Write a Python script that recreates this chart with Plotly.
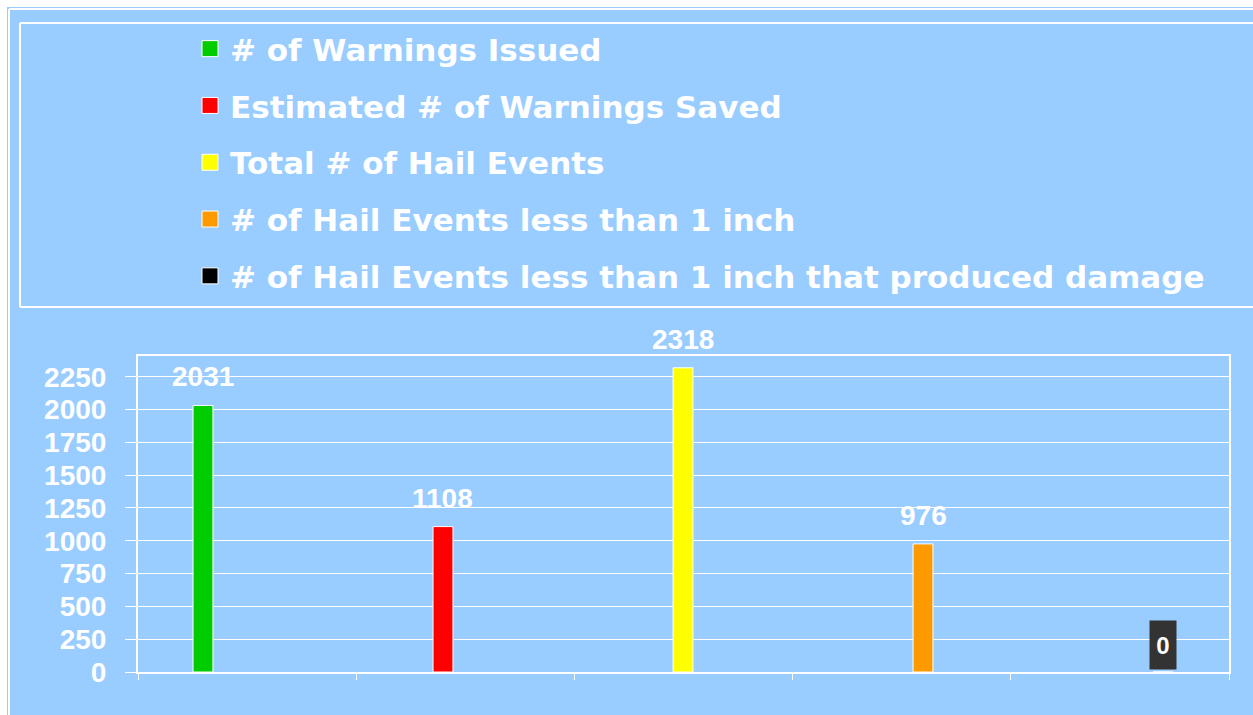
import numpy as np
import plotly.graph_objects as go

series_names = [
    "# of Warnings Issued",
    "Estimated # of Warnings Saved",
    "Total # of Hail Events",
    "# of Hail Events less than 1 inch",
    "# of Hail Events less than 1 inch that produced damage",
]
values = [2031, 1108, 2318, 976, 0]
colors = ["#00CC00", "#FF0000", "#FFFF00", "#FF9900", "#000000"]
y_ticks = [0, 250, 500, 750, 1000, 1250, 1500, 1750, 2000, 2250]

# page body margin is removed in the html, so figure pixels = page pixels
W, H = 1253, 715
L, R, T, B = 138, 1229, 356, 672
BG = "#99CCFF"
NUMFONT = "Liberation Sans, Arial, sans-serif"
LEGFONT = "DejaVu Sans, Arial, sans-serif"

def px(x):
    return (x - L) / (R - L)

def py(y):
    return (B - y) / (B - T)

xmin, xmax = -0.2708, 4.275

fig = go.Figure()
for i, (name, v, c) in enumerate(zip(series_names, values, colors)):
    fig.add_trace(go.Bar(
        x=[i], y=[v], width=0.083, marker=dict(color=c, line=dict(color="white", width=1)),
        showlegend=False, hoverinfo="y", name=name,
    ))
    # legend proxy (bigger square symbol)
    fig.add_trace(go.Scatter(
        x=[None], y=[None], mode="markers", name=name, legendgroup=f"g{i}",
        marker=dict(symbol="square", size=16, color=c, line=dict(color="white", width=1)),
    ))

annotations = []
for i, v in enumerate(values):
    if v == 0:
        annotations.append(dict(
            x=i, y=v, xref="x", yref="y", text=f"<b>{v}</b>", showarrow=False,
            yanchor="bottom", yshift=2, bgcolor="#333333", width=24, height=46,
            font=dict(family=NUMFONT, size=24, color="white"), valign="middle",
        ))
    else:
        annotations.append(dict(
            x=i, y=v, xref="x", yref="y", text=f"<b>{v}</b>", showarrow=False,
            yanchor="bottom", yshift=11,
            font=dict(family=NUMFONT, size=28, color="white"),
        ))

line_w = dict(color="white", width=2)
shapes = [
    # white page margin at top and left
    dict(type="rect", xref="paper", yref="paper", layer="below",
         x0=px(-20), x1=px(7), y0=py(-20), y1=py(760),
         fillcolor="white", line=dict(width=0)),
    dict(type="rect", xref="paper", yref="paper", layer="below",
         x0=px(-20), x1=px(1290), y0=py(-20), y1=py(7),
         fillcolor="white", line=dict(width=0)),
    # white frame of blue panel (top and left edges)
    dict(type="line", xref="paper", yref="paper", layer="below",
         x0=px(9), x1=px(1290), y0=py(9), y1=py(9), line=line_w),
    dict(type="line", xref="paper", yref="paper", layer="below",
         x0=px(9), x1=px(9), y0=py(9), y1=py(760), line=line_w),
    # legend frame (top, left, bottom)
    dict(type="line", xref="paper", yref="paper", layer="below",
         x0=px(20), x1=px(1290), y0=py(23), y1=py(23), line=line_w),
    dict(type="line", xref="paper", yref="paper", layer="below",
         x0=px(20), x1=px(20), y0=py(23), y1=py(307), line=line_w),
    dict(type="line", xref="paper", yref="paper", layer="below",
         x0=px(20), x1=px(1290), y0=py(307), y1=py(307), line=line_w),
]

fig.update_layout(
    width=W, height=H,
    margin=dict(l=L, r=W - R, t=T, b=H - B, pad=0),
    paper_bgcolor=BG,
    plot_bgcolor="rgba(0,0,0,0)",
    barmode="overlay",
    showlegend=True,
    legend=dict(
        x=px(190), y=py(22), xanchor="left", yanchor="top",
        bgcolor="rgba(0,0,0,0)", borderwidth=0,
        font=dict(family=LEGFONT, size=31, color="white", weight="bold"),
        tracegroupgap=13.5, itemsizing="trace",
    ),
    xaxis=dict(
        range=[xmin, xmax], tickvals=list(np.linspace(xmin, xmax, 6)), showticklabels=False,
        ticks="outside", ticklen=6, tickcolor="white", showgrid=False, zeroline=False,
        showline=True, linecolor="white", linewidth=2, mirror=True, fixedrange=True,
    ),
    yaxis=dict(
        range=[0, 2408], tickvals=y_ticks, ticks="outside", ticklen=11, tickcolor="white",
        showgrid=True, gridcolor="white", gridwidth=1, zeroline=False,
        showline=True, linecolor="white", linewidth=2, mirror=True,
        tickfont=dict(family=NUMFONT, size=28, color="white", weight="bold"),
        ticklabelstandoff=13, fixedrange=True,
    ),
    annotations=annotations,
    shapes=shapes,
)

fig.write_html(
    "out.html",
    config={"displayModeBar": False},
    post_script="document.body.style.margin='0px';document.body.style.background='#99CCFF';",
)
